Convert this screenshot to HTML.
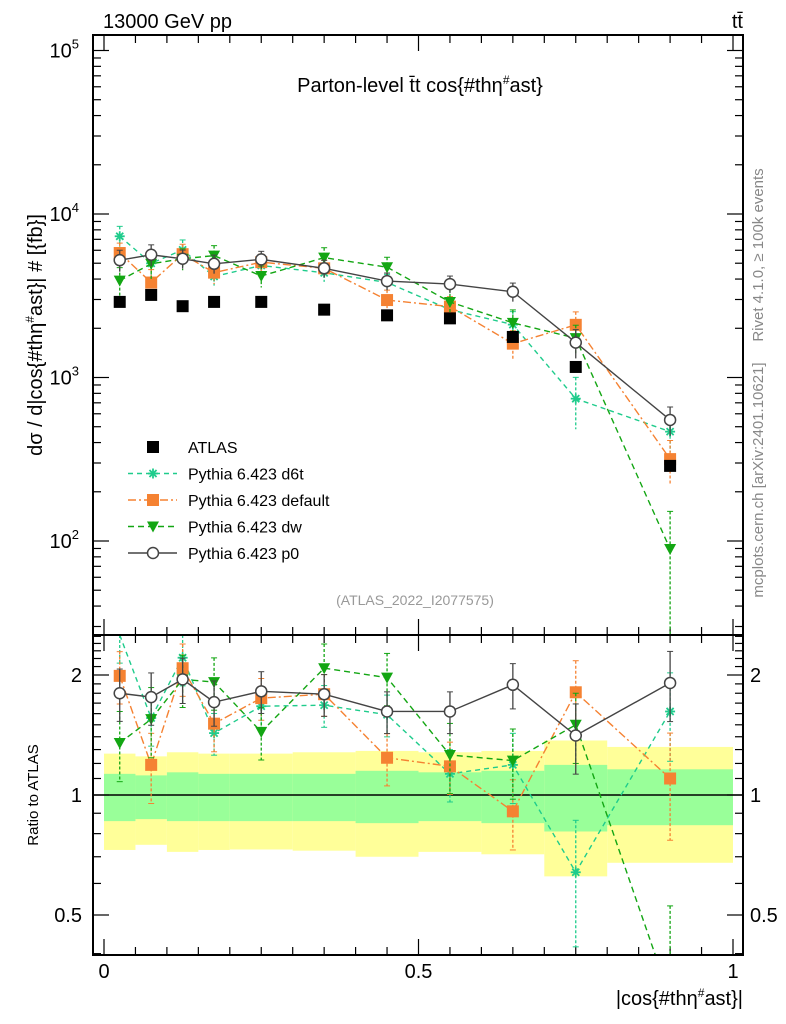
<!DOCTYPE html>
<html><head><meta charset="utf-8"><style>
body{margin:0;background:#fff}
svg{display:block;font-family:"Liberation Sans",sans-serif}
</style></head><body>
<svg id="chart" width="786" height="1024" viewBox="0 0 786 1024" xmlns="http://www.w3.org/2000/svg">
<rect width="786" height="1024" fill="#fff"/>
<g id="bands"></g><g id="ticks"></g><g id="series"></g>
<rect x="93" y="35" width="650" height="600" fill="none" stroke="#000" stroke-width="2"/>
<rect x="93" y="635" width="650" height="320" fill="none" stroke="#000" stroke-width="2"/>
<text x="103" y="28" font-size="20">13000 GeV pp</text>
<text x="743" y="28" font-size="20" text-anchor="end">tt̄</text>
<text x="420" y="92" font-size="20" text-anchor="middle">Parton-level t̄t cos{#thη<tspan dy="-8" font-size="12">#</tspan><tspan dy="8">ast}</tspan></text>
<text transform="translate(42,335) rotate(-90)" font-size="20" text-anchor="middle">dσ / d|cos{#thη<tspan dy="-8" font-size="12">#</tspan><tspan dy="8">ast}| # [{fb}]</tspan></text>
<text transform="translate(38,795) rotate(-90)" font-size="15" text-anchor="middle">Ratio to ATLAS</text>
<text x="743" y="1005" font-size="20" text-anchor="end">|cos{#thη<tspan dy="-8" font-size="12">#</tspan><tspan dy="8">ast}|</tspan></text>
<text transform="translate(763,255) rotate(-90)" font-size="15" fill="#888" text-anchor="middle">Rivet 4.1.0, ≥ 100k events</text>
<text transform="translate(763,480) rotate(-90)" font-size="15" fill="#888" text-anchor="middle">mcplots.cern.ch [arXiv:2401.10621]</text>
<text x="415" y="605" font-size="14" fill="#999" text-anchor="middle">(ATLAS_2022_I2077575)</text>
<g id="legend"></g>
</svg>
<script>
const binLo=[0,0.05,0.1,0.15,0.2,0.3,0.4,0.5,0.6,0.7,0.8];
const binHi=[0.05,0.1,0.15,0.2,0.3,0.4,0.5,0.6,0.7,0.8,1.0];
const atlas=[2900,3200,2730,2900,2900,2600,2400,2300,1770,1160,288];
const bandOutUp=[1.27,1.25,1.28,1.27,1.27,1.28,1.29,1.28,1.29,1.37,1.32];
const bandOutDn=[0.728,0.75,0.72,0.728,0.73,0.725,0.70,0.72,0.71,0.625,0.676];
const bandInUp=[1.13,1.12,1.14,1.13,1.13,1.13,1.15,1.14,1.15,1.19,1.16];
const bandInDn=[0.86,0.87,0.86,0.86,0.86,0.86,0.85,0.86,0.85,0.81,0.84];
const rD6t=[2.52,1.56,2.21,1.43,1.67,1.68,1.59,1.13,1.19,0.64,1.62];
const rDefault=[1.99,1.19,2.08,1.51,1.75,1.79,1.24,1.18,0.91,1.81,1.10];
const rDw=[1.35,1.55,1.95,1.92,1.44,2.08,1.97,1.26,1.22,1.50,0.31];
const rP0=[1.80,1.76,1.95,1.71,1.82,1.79,1.62,1.62,1.89,1.41,1.91];
const errD6t=[0.15,0.15,0.15,0.12,0.12,0.12,0.12,0.15,0.2,0.35,0.25];
const errDefault=[0.15,0.2,0.15,0.15,0.12,0.12,0.15,0.15,0.2,0.2,0.3];
const errDw=[0.2,0.2,0.15,0.15,0.15,0.15,0.15,0.2,0.2,0.2,0.7];
const errP0=[0.15,0.15,0.13,0.13,0.12,0.12,0.12,0.12,0.13,0.2,0.2];
const xTicksMajor=[0,0.5,1];
const xTickLabels=["0","0.5","1"];
const yDecades=[100,1000,10000,100000];
const yDecadeLabels=["2","3","4","5"];
const ratioMajors=[0.5,1,2];
const ratioLabels=["0.5","1","2"];

const NS="http://www.w3.org/2000/svg";
const X=v=>104+629*v;
const Y=v=>214-163.5*(Math.log10(v)-4);
const R=r=>795-120*Math.log2(r);
function mk(tag,attrs,parent){const e=document.createElementNS(NS,tag);for(const k in attrs)e.setAttribute(k,attrs[k]);parent.appendChild(e);return e;}
const bands=document.getElementById('bands'),ticks=document.getElementById('ticks'),ser=document.getElementById('series'),leg=document.getElementById('legend');
const clampR=y=>Math.max(635,Math.min(955,y));

for(let i=0;i<binLo.length;i++){
  let b=mk('rect',{x:X(binLo[i]),y:R(bandOutUp[i]),width:X(binHi[i])-X(binLo[i]),height:R(bandOutDn[i])-R(bandOutUp[i]),fill:'#ffff99'},bands);
  
  
}
for(let i=0;i<binLo.length;i++){
  let b=mk('rect',{x:X(binLo[i]),y:R(bandInUp[i]),width:X(binHi[i])-X(binLo[i]),height:R(bandInDn[i])-R(bandInUp[i]),fill:'#99ff99'},bands);
  
  
}
let one=mk('line',{x1:93,x2:743,y1:R(1),y2:R(1),stroke:'#000','stroke-width':1.5},bands);



for(let k=0;k<=20;k++){
  const v=k*0.05,x=X(v),maj=(k%10===0),L=maj?16:8;
  for(const [y0,d] of [[955,-1],[635,-1],[635,1],[35,1]]){
    mk('line',{x1:x,x2:x,y1:y0,y2:y0+d*L,stroke:'#000','stroke-width':1.2},ticks);
  }
}
xTicksMajor.forEach((v,i)=>{let t=mk('text',{x:X(v),y:978,'font-size':20,'text-anchor':'middle'},ticks);t.textContent=xTickLabels[i];

});
for(let d=1;d<=5;d++){for(let m=1;m<=9;m++){const v=m*Math.pow(10,d),y=Y(v);if(y<35||y>635)continue;const L=m===1?16:8;
  mk('line',{x1:93,x2:93+L,y1:y,y2:y,stroke:'#000','stroke-width':1.2},ticks);
  mk('line',{x1:743,x2:743-L,y1:y,y2:y,stroke:'#000','stroke-width':1.2},ticks);}}
yDecades.forEach((v,i)=>{let t=mk('text',{x:79,y:Y(v)+7,'font-size':20,'text-anchor':'end'},ticks);t.innerHTML='10<tspan dy="-9" font-size="13">'+yDecadeLabels[i]+'</tspan>';

});
for(let k=4;k<=25;k++){const v=k/10,y=R(v);if(y<635||y>955)continue;const maj=ratioMajors.includes(v),L=maj?16:8;
  mk('line',{x1:93,x2:93+L,y1:y,y2:y,stroke:'#000','stroke-width':1.2},ticks);
  mk('line',{x1:743,x2:743-L,y1:y,y2:y,stroke:'#000','stroke-width':1.2},ticks);}
ratioMajors.forEach((v,i)=>{for(const [x,a] of [[82,'end'],[750,'start']]){let t=mk('text',{x:x,y:R(v)+7,'font-size':20,'text-anchor':a},ticks);t.textContent=ratioLabels[i];

}});

function marker(kind,x,y,color,g){
  if(kind==='sq') mk('rect',{x:x-6,y:y-6,width:12,height:12,fill:color},g);
  else if(kind==='tri') mk('path',{d:`M${x-6},${y-5}L${x+6},${y-5}L${x},${y+6}Z`,fill:color},g);
  else if(kind==='circ') mk('circle',{cx:x,cy:y,r:5.5,fill:'#fff',stroke:color,'stroke-width':1.5},g);
  else if(kind==='star'){for(let a=0;a<4;a++){const t=a*Math.PI/4;mk('line',{x1:x-5*Math.cos(t),y1:y-5*Math.sin(t),x2:x+5*Math.cos(t),y2:y+5*Math.sin(t),stroke:color,'stroke-width':1.8},g);}}
}
const mids=binLo.map((l,i)=>(l+binHi[i])/2);
const specs=[
 {name:'d6t',r:rD6t,e:errD6t,c:'#1fcc8c',m:'star',dash:'5,4'},
 {name:'default',r:rDefault,e:errDefault,c:'#f58232',m:'sq',dash:'8,3,2,3'},
 {name:'dw',r:rDw,e:errDw,c:'#13a613',m:'tri',dash:'6,4'},
 {name:'p0',r:rP0,e:errP0,c:'#444',m:'circ',dash:''}];
specs.forEach(s=>{
  const gm=mk('g',{},ser);
  
  
  const vals=s.r.map((r,i)=>r*atlas[i]);
  const mp=[],rp=[];
  mids.forEach((m,i)=>{mp.push([X(m),Y(vals[i])]);rp.push([X(m),R(s.r[i])]);});
  const la={fill:'none',stroke:s.c,'stroke-width':1.4};if(s.dash)la['stroke-dasharray']=s.dash;
  mk('polyline',Object.assign({points:mp.map(p=>p.join(',')).join(' ')},la),gm);
  const cp=mk('clipPath',{id:'cr'+s.name},gm);mk('rect',{x:93,y:635,width:650,height:320},cp);
  mk('polyline',Object.assign({points:rp.map(p=>p.join(',')).join(' '),'clip-path':`url(#cr${s.name})`},la),gm);
  mids.forEach((m,i)=>{
    const x=X(m),e=s.e[i];
    const ea={stroke:s.c,'stroke-width':1.3};if(s.dash)ea['stroke-dasharray']='3,2';
    const y1=Y(vals[i]*(1+e)),y2=Y(vals[i]*Math.max(0.05,1-e));
    mk('line',Object.assign({x1:x,x2:x,y1:y1,y2:Math.min(635,y2)},ea),gm);
    mk('line',{x1:x-3,x2:x+3,y1:y1,y2:y1,stroke:s.c},gm);
    const r1=clampR(R(s.r[i]*(1+e))),r2=clampR(R(s.r[i]*Math.max(0.05,1-e)));
    mk('line',Object.assign({x1:x,x2:x,y1:r1,y2:r2},ea),gm);
    mk('line',{x1:x-3,x2:x+3,y1:r1,y2:r1,stroke:s.c},gm);
    mk('line',{x1:x-3,x2:x+3,y1:r2,y2:r2,stroke:s.c},gm);
    marker(s.m,x,mp[i][1],s.c,gm);
    if(R(s.r[i])>=635&&R(s.r[i])<=955)marker(s.m,x,R(s.r[i]),s.c,gm);
  });
});
const ga=mk('g',{},ser);


mids.forEach((m,i)=>marker('sq',X(m),Y(atlas[i]),'#000',ga));

const legNames=['ATLAS','Pythia 6.423 d6t','Pythia 6.423 default','Pythia 6.423 dw','Pythia 6.423 p0'];
const legRows=[{m:'sq',c:'#000'}].concat(specs);
legRows.forEach((s,i)=>{
  const y=447+26.5*i;
  const g=mk('g',{},leg);
  
  
  if(i>0){const la={x1:128,x2:177,y1:y,y2:y,stroke:s.c,'stroke-width':1.4};if(s.dash)la['stroke-dasharray']=s.dash;mk('line',la,g);}
  marker(s.m,153,y,s.c,g);
  const t=mk('text',{x:188,y:y+6,'font-size':16},g);t.textContent=legNames[i];
});
</script>
</body></html>
